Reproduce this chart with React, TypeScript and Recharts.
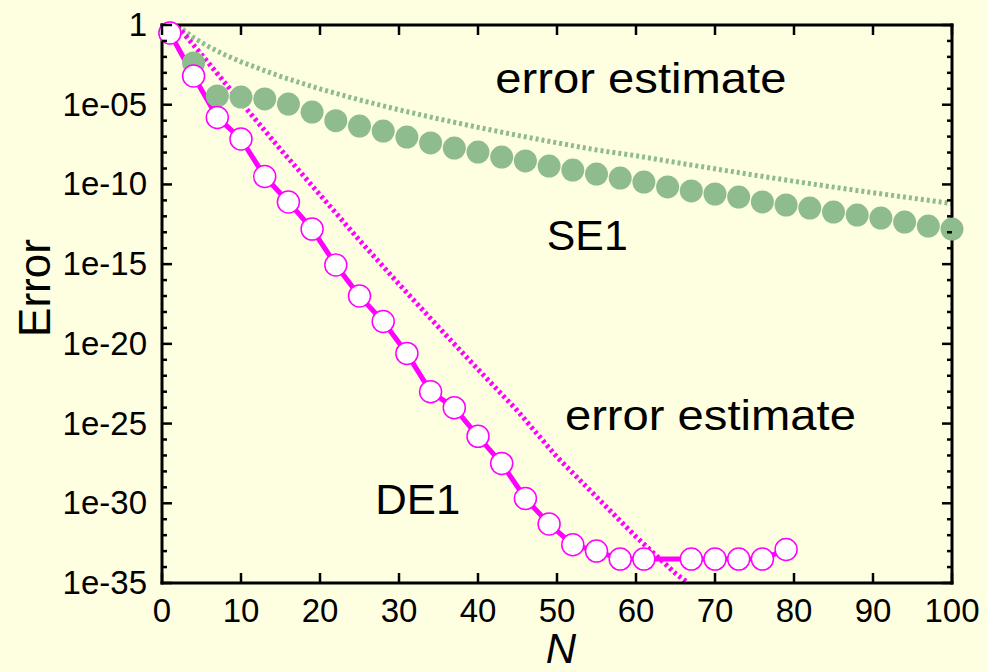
import React from 'react';
import { ComposedChart, Line, XAxis, YAxis, ReferenceDot } from 'recharts';

const W = 987;
const H = 672;
const BG = '#FEFEE1';
const MAGENTA = '#FF00FF';
const GREEN = '#8FBC8F';
const FONT = '"Liberation Sans", Arial, Helvetica, sans-serif';

// N and log10(error)
const de1N = [1, 4, 7, 10, 13, 16, 19, 22, 25, 28, 31, 34, 37, 40, 43, 46, 49, 52, 55, 58, 61, 67, 70, 73, 76, 79];
const de1Log = [-0.5, -3.2, -5.8, -7.15, -9.5, -11.1, -12.8, -15.05, -17.0, -18.6, -20.6, -23.0, -24.0, -25.8, -27.5, -29.7, -31.3, -32.6, -33.0, -33.5, -33.5, -33.5, -33.5, -33.5, -33.5, -32.9];

const se1N = [1, 4, 7, 10, 13, 16, 19, 22, 25, 28, 31, 34, 37, 40, 43, 46, 49, 52, 55, 58, 61, 64, 67, 70, 73, 76, 79, 82, 85, 88, 91, 94, 97, 100];
const se1Log = [-0.5, -2.38, -4.45, -4.52, -4.64, -4.96, -5.46, -6.0, -6.34, -6.65, -7.03, -7.4, -7.72, -7.97, -8.28, -8.53, -8.85, -9.1, -9.35, -9.6, -9.85, -10.16, -10.41, -10.6, -10.79, -11.1, -11.29, -11.48, -11.73, -11.92, -12.11, -12.36, -12.61, -12.8];

const se1EstN = [2, 4, 6, 8, 10, 15, 20, 25, 30, 35, 40, 45, 50, 55, 60, 65, 70, 75, 80, 85, 90, 95, 100];
const se1EstLog = [-0.04, -0.8, -1.38, -1.88, -2.31, -3.23, -4.01, -4.7, -5.32, -5.89, -6.42, -6.92, -7.39, -7.84, -8.2, -8.62, -9.02, -9.42, -9.8, -10.17, -10.52, -10.86, -11.2];

const de1EstN = [2, 5, 10, 15, 20, 25, 30, 35, 40, 45, 50, 55, 60, 65, 66.6];
const de1EstLog = [-0.1, -1.85, -4.85, -7.8, -10.65, -13.5, -16.25, -18.95, -21.6, -24.2, -27.1, -29.6, -32.1, -34.4, -35];

const xTicks = [0, 10, 20, 30, 40, 50, 60, 70, 80, 90, 100];
const yMajorExp = [0, -5, -10, -15, -20, -25, -30, -35];
const yTicks = Array.from({ length: 36 }, (_, i) => Math.pow(10, -i));

const noteText = ['error estimate', 'SE1', 'error estimate', 'DE1'];
const noteN = [42.2, 48.7, 51.0, 27.0];
const noteLog = [-4.27, -14.1, -25.4, -30.7];
const noteWidth = [291, 81, 291, 85];

const toRows = (ns: number[], logs: number[]) => ns.map((n, i) => ({ n, v: Math.pow(10, logs[i]) }));
const de1 = toRows(de1N, de1Log);
const se1 = toRows(se1N, se1Log);
const se1Est = toRows(se1EstN, se1EstLog);
const de1Est = toRows(de1EstN, de1EstLog);

const expOf = (v: number) => Math.round(Math.log10(v));
const fmtExp = (e: number) => (e === 0 ? '1' : `1e-${String(-e).padStart(2, '0')}`);

const BottomTick = (p: any) => (
  <g>
    <line x1={p.x} x2={p.x} y1={p.y} y2={p.y - 10} stroke="#000" strokeWidth={2.5} />
    <text x={p.x} y={p.y + 39} textAnchor="middle" fontSize={33} fontFamily={FONT} fill="#000">
      {p.payload.value}
    </text>
  </g>
);

const TopTick = (p: any) => (
  <line x1={p.x} x2={p.x} y1={p.y} y2={p.y + 10} stroke="#000" strokeWidth={2.5} />
);

const LeftTick = (p: any) => {
  const e = expOf(p.payload.value);
  const major = yMajorExp.includes(e);
  return (
    <g>
      <line x1={p.x} x2={p.x + (major ? 10 : 5)} y1={p.y} y2={p.y} stroke="#000" strokeWidth={2.5} />
      {major && (
        <text x={p.x - 15} y={p.y + 11} textAnchor="end" fontSize={33} fontFamily={FONT} fill="#000">
          {fmtExp(e)}
        </text>
      )}
    </g>
  );
};

const RightTick = (p: any) => {
  const major = yMajorExp.includes(expOf(p.payload.value));
  return <line x1={p.x} x2={p.x - (major ? 10 : 5)} y1={p.y} y2={p.y} stroke="#000" strokeWidth={2.5} />;
};

const note = (text: string, width: number) => (props: any) => {
  const vb = props.viewBox;
  return (
    <text x={vb.x} y={vb.y} fontSize={43} fontFamily={FONT} fill="#000" textLength={width} lengthAdjust="spacingAndGlyphs">
      {text}
    </text>
  );
};

const axisLine = { stroke: '#000', strokeWidth: 3, strokeLinecap: 'square' as const };

export default function App() {
  return (
    <div style={{ position: 'absolute', left: 0, top: 0, width: W, height: H, background: BG }}>
      <ComposedChart width={W} height={H} margin={{ top: 24, right: 34, bottom: 0, left: 0 }}>
        <XAxis
          dataKey="n"
          type="number"
          domain={[0, 100]}
          ticks={xTicks}
          interval={0}
          height={89}
          tickSize={0}
          tickMargin={0}
          tickLine={false}
          axisLine={axisLine}
          tick={<BottomTick />}
          label={(props: any) => {
            const vb = props.viewBox;
            return (
              <text x={vb.x + vb.width / 2 + 4} y={663} textAnchor="middle" fontSize={42} fontStyle="italic" fontFamily={FONT} fill="#000">
                N
              </text>
            );
          }}
        />
        <XAxis
          xAxisId="top"
          orientation="top"
          dataKey="n"
          type="number"
          domain={[0, 100]}
          ticks={xTicks}
          interval={0}
          height={1}
          tickSize={0}
          tickMargin={0}
          tickLine={false}
          axisLine={axisLine}
          tick={<TopTick />}
        />
        <YAxis
          dataKey="v"
          scale="log"
          type="number"
          domain={[1e-35, 1]}
          ticks={yTicks}
          interval={0}
          width={162}
          tickSize={0}
          tickMargin={0}
          tickLine={false}
          axisLine={axisLine}
          tick={<LeftTick />}
          label={() => (
            <text x={50} y={288} transform="rotate(-90, 50, 288)" textAnchor="middle" fontSize={44} fontFamily={FONT} fill="#000">
              Error
            </text>
          )}
        />
        <YAxis
          yAxisId="right"
          orientation="right"
          dataKey="v"
          scale="log"
          type="number"
          domain={[1e-35, 1]}
          ticks={yTicks}
          interval={0}
          width={1}
          tickSize={0}
          tickMargin={0}
          tickLine={false}
          axisLine={axisLine}
          tick={<RightTick />}
        />
        {/* invisible series so the mirror axes on top/right get drawn */}
        <Line
          data={se1Est}
          dataKey="v"
          xAxisId="top"
          yAxisId="right"
          stroke="none"
          dot={false}
          activeDot={false}
          isAnimationActive={false}
        />
        <Line
          data={se1}
          dataKey="v"
          stroke="none"
          isAnimationActive={false}
          dot={{ r: 11.5, fill: GREEN, stroke: 'none' }}
          activeDot={false}
        />
        <Line
          data={se1Est}
          dataKey="v"
          stroke={GREEN}
          strokeWidth={5}
          strokeDasharray="3 3"
          dot={false}
          activeDot={false}
          isAnimationActive={false}
        />
        <Line
          data={de1Est}
          dataKey="v"
          stroke={MAGENTA}
          strokeWidth={5}
          strokeDasharray="3 3"
          dot={false}
          activeDot={false}
          isAnimationActive={false}
        />
        <Line
          data={de1}
          dataKey="v"
          stroke={MAGENTA}
          strokeWidth={5}
          dot={{ r: 11, fill: '#fff', stroke: MAGENTA, strokeWidth: 1.5 }}
          activeDot={false}
          isAnimationActive={false}
        />
        {noteText.map((t, i) => (
          <ReferenceDot
            key={i}
            x={noteN[i]}
            y={Math.pow(10, noteLog[i])}
            r={0}
            fill="none"
            stroke="none"
            label={note(t, noteWidth[i])}
          />
        ))}
      </ComposedChart>
    </div>
  );
}
